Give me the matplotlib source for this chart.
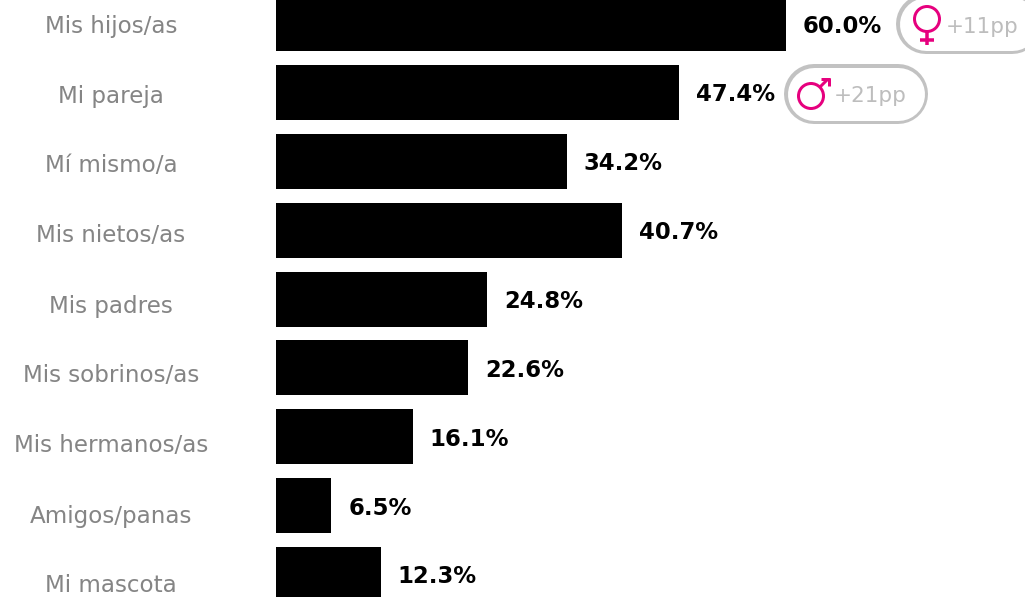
import matplotlib
matplotlib.use("Agg")
import matplotlib.pyplot as plt
from matplotlib.lines import Line2D
from matplotlib.patches import Circle
from matplotlib.transforms import IdentityTransform

categories = ["Mis hijos/as", "Mi pareja", "Mí mismo/a", "Mis nietos/as", "Mis padres",
              "Mis sobrinos/as", "Mis hermanos/as", "Amigos/panas", "Mi mascota"]
values = [60.0, 47.4, 34.2, 40.7, 24.8, 22.6, 16.1, 6.5, 12.3]
gap_labels = ["+11pp", "+21pp"]

W, H = 1025, 597
GREY = "#858585"
PINK = "#e6007e"
PILL = "#c2c2c2"
FONT = "DejaVu Sans"
PITCH = 68.86
TOP = 23.6
px = 72 / 100  # points per pixel at dpi 100

fig = plt.figure(figsize=(W / 100, H / 100), dpi=100)
ax = fig.add_axes([276 / W, 0, 1 - 276 / W, 1])
ax.set_xlim(0, (W - 276) / 8.5)
ax.set_ylim((H - TOP) / PITCH, -TOP / PITCH)
ax.axis("off")

ax.barh(range(len(values)), values, height=55 / PITCH, color="black")

for i, (cat, v) in enumerate(zip(categories, values)):
    ax.annotate(f"{v:.1f}%", (v, i), xytext=(17, -9), textcoords="offset pixels",
                va="baseline", ha="left", fontsize=16.4, fontweight="bold",
                family=FONT, color="black")
    fig.text(111 / W, 1 - (32.5 + 70 * i) / H, cat, ha="center", va="baseline",
             fontsize=16.6, family=FONT, color=GREY)


def pixel_line(xs, ys, color, width, cap="butt", zorder=3):
    # coordinates given from the top left corner, in pixels
    fig.add_artist(Line2D(xs, [H - y for y in ys], color=color, lw=width * px,
                          solid_capstyle=cap, transform=IdentityTransform(), zorder=zorder))


def draw_pill(x0, x1, yc, height=60, border=3.5):
    r = height / 2
    pixel_line([x0 + r, x1 - r], [yc, yc], PILL, height, "round", 2)
    pixel_line([x0 + r, x1 - r], [yc, yc], "white", height - 2 * border, "round", 2.5)


def pink_ring(x, y, r):
    fig.add_artist(Circle((x, H - y), r, fc="none", ec=PINK, lw=3 * px,
                          transform=IdentityTransform(), zorder=3))


# gender gap pills next to the first two bars
draw_pill(896, 1042, 24)
draw_pill(784, 928, 94)

# female sign
pink_ring(927, 19, 12.5)
pixel_line([927, 927], [31, 45], PINK, 3.5)
pixel_line([920, 934], [39.5, 39.5], PINK, 3.5)

# male sign
pink_ring(811, 96, 12.5)
pixel_line([820, 828], [87, 79], PINK, 3)
pixel_line([821, 829.5], [79, 79], PINK, 3)
pixel_line([829, 829], [78, 86], PINK, 3)

for text, x, y in zip(gap_labels, [946, 834], [33, 102]):
    fig.text(x / W, 1 - y / H, text, color="#bdbdbd", fontsize=15.5, ha="left",
             va="baseline", family=FONT)

fig.savefig("out.png", dpi=100)
